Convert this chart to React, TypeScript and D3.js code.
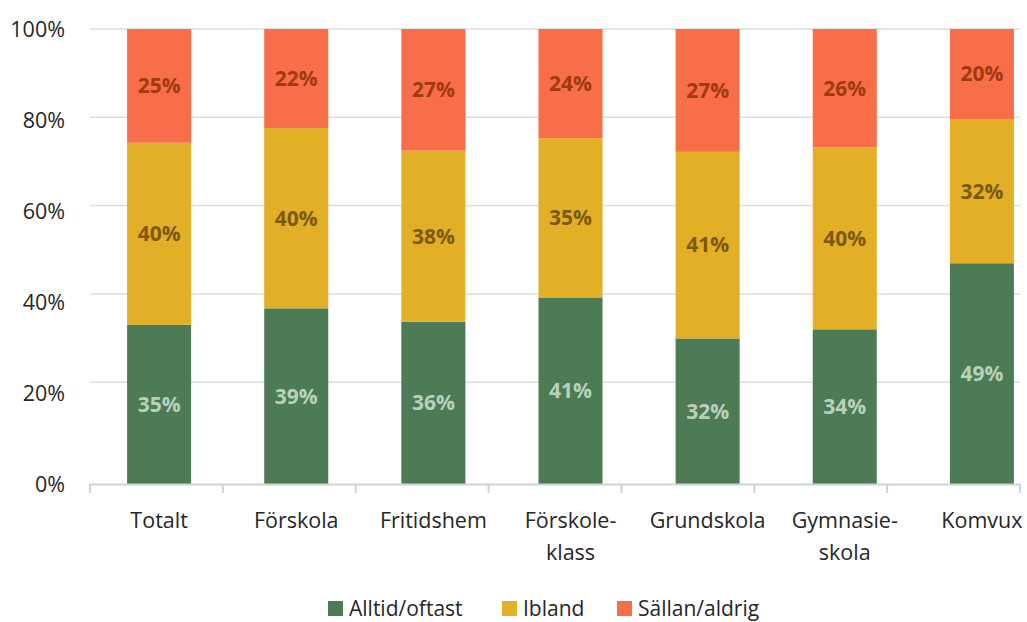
import React from "react";
import * as d3 from "d3";

const categories = ["Totalt", "Förskola", "Fritidshem", "Förskole-\nklass", "Grundskola", "Gymnasie-\nskola", "Komvux"];
const seriesNames = ["Alltid/oftast", "Ibland", "Sällan/aldrig"];
const alltid = [35, 39, 36, 41, 32, 34, 49];
const ibland = [40, 40, 38, 35, 41, 40, 32];
const sallan = [25, 22, 27, 24, 27, 26, 20];
const yTicks = [0, 20, 40, 60, 80, 100];

const colors = ["#4c7b56", "#e2af26", "#f76e48"];
const labelColors = ["#b7d2bb", "#7b5a0c", "#a13a10"];
const FONT = "'Open Sans', 'Noto Sans', sans-serif";

export default function App() {
  const W = 1027, H = 622;
  const series = [alltid, ibland, sallan];

  const x = d3.scaleBand<string>().domain(categories).range([54, 1087]).paddingInner(0.533).paddingOuter(0.533);
  const y = d3.scaleLinear().domain([0, 100]).range([484, 29]);
  const yGrid = d3.scaleLinear().domain([0, 100]).range([470.5, 29]);
  const xTick = d3.scaleLinear().domain([0, categories.length]).range([90, 1020]);

  const rows = categories.map((c, i) => {
    const vals = series.map((s) => s[i]);
    const total = d3.sum(vals);
    let acc = 0;
    return vals.map((v, k) => {
      const y0 = (acc / total) * 100;
      acc += v;
      const y1 = (acc / total) * 100;
      return { c, k, v, y0, y1 };
    });
  });

  const legendX = [328, 502, 617];

  return (
    <svg width={W} height={H} style={{ position: "absolute", left: 0, top: 0, fontFamily: FONT }}>
      <rect width={W} height={H} fill="#fff" />
      {yTicks.filter((t) => t > 0).map((t) => (
        <line key={"g" + t} x1={90} x2={1020} y1={yGrid(t)} y2={yGrid(t)} stroke="#d9dfde" strokeWidth={1.5} />
      ))}
      {yTicks.map((t) => (
        <text key={"yl" + t} x={65} y={y(t)} dy="0.35em" textAnchor="end" fontSize={21.5} fill="#262626">
          {t}%
        </text>
      ))}
      {rows.map((segs) =>
        segs.map((s) => (
          <rect key={s.c + s.k} x={x(s.c)} width={x.bandwidth()} y={y(s.y1)} height={y(s.y0) - y(s.y1)} fill={colors[s.k]} />
        ))
      )}
      {rows.map((segs) =>
        segs.map((s) => (
          <text
            key={"l" + s.c + s.k}
            x={(x(s.c) as number) + x.bandwidth() / 2}
            y={y((s.y0 + s.y1) / 2)}
            dy="0.35em"
            textAnchor="middle"
            fontSize={21}
            fontWeight="bold"
            fill={labelColors[s.k]}
          >
            {s.v}%
          </text>
        ))
      )}
      <line x1={90} x2={1020} y1={484.5} y2={484.5} stroke="#cdd4d3" strokeWidth={2} />
      {d3.range(categories.length + 1).map((i) => (
        <line key={"t" + i} x1={xTick(i)} x2={xTick(i)} y1={484} y2={493} stroke="#cdd4d3" strokeWidth={2} />
      ))}
      {categories.map((c) => (
        <text key={"c" + c} x={(x(c) as number) + x.bandwidth() / 2} y={520} textAnchor="middle" fontSize={21.5} fill="#262626">
          {c.split("\n").map((line, j) => (
            <tspan key={j} x={(x(c) as number) + x.bandwidth() / 2} dy={j === 0 ? "0.35em" : 32}>
              {line}
            </tspan>
          ))}
        </text>
      ))}
      {seriesNames.map((n, k) => (
        <g key={n}>
          <rect x={legendX[k]} y={601} width={15} height={15} fill={colors[k]} />
          <text x={legendX[k] + 21} y={608.5} dy="0.35em" fontSize={21} fill="#262626">
            {n}
          </text>
        </g>
      ))}
    </svg>
  );
}
